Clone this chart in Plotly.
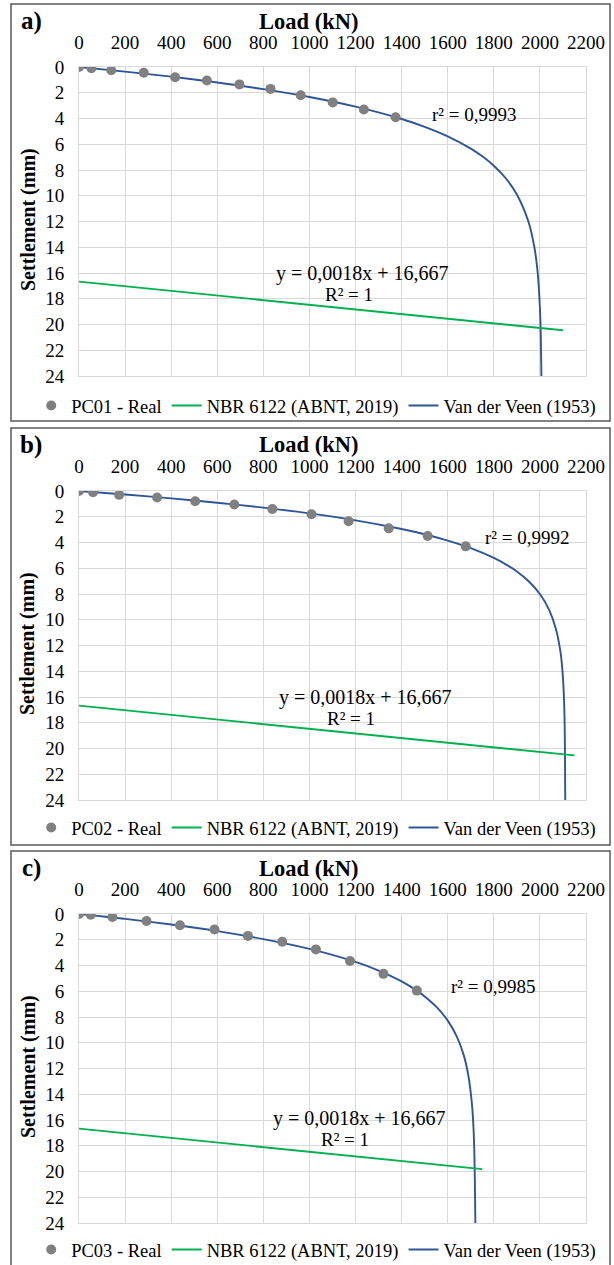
import plotly.graph_objects as go

# ---------------- data ----------------
panel_letters = ["a)", "b)", "c)"]
pile_names = ["PC01 - Real", "PC02 - Real", "PC03 - Real"]

# measured load-settlement points
pc01_load = [0, 54, 140, 281, 417, 555, 696, 831, 962, 1101, 1236, 1374]
pc01_settle = [0, 0.1, 0.25, 0.45, 0.8, 1.05, 1.35, 1.7, 2.2, 2.75, 3.3, 3.9]
pc02_load = [0, 61, 174, 339, 504, 674, 839, 1009, 1170, 1344, 1513, 1678]
pc02_settle = [0, 0.1, 0.3, 0.5, 0.8, 1.05, 1.4, 1.8, 2.35, 2.9, 3.5, 4.3]
pc03_load = [0, 51, 145, 293, 438, 588, 733, 882, 1028, 1176, 1321, 1466]
pc03_settle = [0, 0.05, 0.23, 0.55, 0.88, 1.2, 1.7, 2.15, 2.75, 3.65, 4.65, 5.95]

# Van der Veen (1953) extrapolated curves
vdv1_load = [0, 200, 400, 600, 800, 1000, 1200, 1400, 1500, 1600, 1700, 1750, 1800, 1850,
             1900, 1950, 1975, 1990, 2000, 2004, 2006.5]
vdv1_settle = [0, 0.36, 0.75, 1.2, 1.72, 2.33, 3.08, 4.04, 4.65, 5.39, 6.34, 6.94, 7.67, 8.6,
               9.9, 12.0, 13.9, 15.9, 18.7, 21.0, 24]
vdv2_load = [0, 200, 400, 600, 800, 1000, 1200, 1400, 1500, 1600, 1700, 1800, 1850, 1900,
             1950, 2000, 2040, 2070, 2090, 2100, 2105, 2108, 2109.5, 2110]
vdv2_settle = [0, 0.27, 0.57, 0.91, 1.29, 1.74, 2.28, 2.95, 3.36, 3.85, 4.44, 5.2, 5.68, 6.25,
               6.99, 8.0, 9.23, 10.75, 12.6, 14.5, 16.4, 18.9, 22.6, 24]
vdv3_load = [0, 200, 400, 600, 800, 1000, 1200, 1300, 1400, 1466, 1500, 1550, 1600, 1640,
             1670, 1690, 1705, 1712, 1716, 1718.5, 1720]
vdv3_settle = [0, 0.38, 0.82, 1.33, 1.95, 2.71, 3.72, 4.39, 5.23, 5.95, 6.4, 7.2, 8.28, 9.54,
               11.0, 12.6, 14.75, 16.7, 18.9, 21.9, 24]

# NBR 6122 (ABNT, 2019) lines
nbr1_load = [0, 2100]
nbr1_settle = [16.667, 20.447]
nbr2_load = [0, 2150]
nbr2_settle = [16.667, 20.537]
nbr3_load = [0, 1750]
nbr3_settle = [16.667, 19.817]

r2_texts = ["r² = 0,9993", "r² = 0,9992", "r² = 0,9985"]
r2_pos = [(1715, 3.7), (1944, 3.6), (1800, 5.6)]
eq_text = "y = 0,0018x + 16,667"
eqR2_text = "R² = 1"
eq_pos = [(1230, 16.0), (1245, 16.0), (1215, 15.9)]
eqR2_pos = [(1170, 17.65), (1182, 17.65), (1155, 17.55)]

x_ticks = list(range(0, 2201, 200))
y_ticks = list(range(0, 25, 2))

# ---------------- layout geometry (pixels) ----------------
W, H = 614, 1265
FONT = "Liberation Serif"
BLUE = "#2F5597"
GREEN = "#00B050"
GRAY = "#808080"
GRID = "#d9d9d9"

offsets = [0, 424, 847]
plot_x0, plot_x1 = 79, 586
plot_y0, plot_y1 = 67, 376
legend_y = [406, 828, 1250]


def px(xp):
    return xp / W


def py(yp):
    return 1 - yp / H


points = [(pc01_load, pc01_settle), (pc02_load, pc02_settle), (pc03_load, pc03_settle)]
vdvs = [(vdv1_load, vdv1_settle), (vdv2_load, vdv2_settle), (vdv3_load, vdv3_settle)]
nbrs = [(nbr1_load, nbr1_settle), (nbr2_load, nbr2_settle), (nbr3_load, nbr3_settle)]

fig = go.Figure()
annotations = []
shapes = []
layout_axes = {}

for i in range(3):
    sfx = "" if i == 0 else str(i + 1)
    xa, ya = "x" + sfx, "y" + sfx
    leg = "legend" + sfx
    off = offsets[i]

    fig.add_trace(go.Scatter(x=vdvs[i][0], y=vdvs[i][1], mode="lines", name="Van der Veen (1953)",
                             line=dict(color=BLUE, width=1.9, shape="spline", smoothing=0.8),
                             xaxis=xa, yaxis=ya, legend=leg, legendrank=3))
    fig.add_trace(go.Scatter(x=nbrs[i][0], y=nbrs[i][1], mode="lines", name="NBR 6122 (ABNT, 2019)",
                             line=dict(color=GREEN, width=1.9),
                             xaxis=xa, yaxis=ya, legend=leg, legendrank=2))
    fig.add_trace(go.Scatter(x=points[i][0], y=points[i][1], mode="markers", name=pile_names[i],
                             marker=dict(color=GRAY, size=10),
                             xaxis=xa, yaxis=ya, legend=leg, legendrank=1))

    layout_axes["xaxis" + sfx] = dict(
        domain=[px(plot_x0), px(plot_x1)], range=[0, 2200], side="top",
        tickvals=x_ticks, ticktext=[str(v) for v in x_ticks],
        showgrid=True, gridcolor=GRID, gridwidth=1, zeroline=False,
        showline=True, linecolor=GRID, mirror=True, ticks="", automargin=False,
        ticklabelstandoff=9, tickfont=dict(family=FONT, size=19, color="black"),
        anchor=ya, fixedrange=True)
    layout_axes["yaxis" + sfx] = dict(
        domain=[py(plot_y1 + off), py(plot_y0 + off)], range=[24, 0],
        tickvals=y_ticks, ticktext=[str(v) for v in y_ticks],
        showgrid=True, gridcolor=GRID, gridwidth=1, zeroline=False,
        showline=True, linecolor=GRID, mirror=True, ticks="", automargin=False,
        ticklabelstandoff=10, tickfont=dict(family=FONT, size=19, color="black"),
        anchor=xa, fixedrange=True)

    layout_axes[leg] = dict(
        orientation="h", x=0.515, xanchor="center", y=py(legend_y[i]), yanchor="middle",
        font=dict(family=FONT, size=18.5, color="black"), bgcolor="rgba(0,0,0,0)",
        itemwidth=30, tracegroupgap=0)

    # panel border
    shapes.append(dict(type="rect", xref="paper", yref="paper",
                       x0=px(11), x1=px(610), y0=py(421 + off), y1=py(4 + off),
                       line=dict(color="#595959", width=1.5), fillcolor="rgba(0,0,0,0)", layer="below"))

    # panel letter, axis titles
    annotations.append(dict(text="<b>" + panel_letters[i] + "</b>", xref="paper", yref="paper",
                            x=px(31), y=py(21 + off), xanchor="center", yanchor="middle", showarrow=False,
                            font=dict(family=FONT, size=25, color="black")))
    annotations.append(dict(text="<b>Load (kN)</b>", xref="paper", yref="paper",
                            x=px(308), y=py(21 + off), xanchor="center", yanchor="middle", showarrow=False,
                            font=dict(family=FONT, size=22.5, color="black")))
    annotations.append(dict(text="<b>Settlement (mm)</b>", xref="paper", yref="paper",
                            x=px(28), y=py(220 + off), xanchor="center", yanchor="middle",
                            showarrow=False, textangle=-90,
                            font=dict(family=FONT, size=20, color="black")))
    # data labels
    annotations.append(dict(text=r2_texts[i], xref=xa, yref=ya, x=r2_pos[i][0], y=r2_pos[i][1],
                            xanchor="center", yanchor="middle",
                            showarrow=False, font=dict(family=FONT, size=19, color="black")))
    annotations.append(dict(text=eq_text, xref=xa, yref=ya, x=eq_pos[i][0], y=eq_pos[i][1],
                            xanchor="center", yanchor="middle",
                            showarrow=False, font=dict(family=FONT, size=20, color="black")))
    annotations.append(dict(text=eqR2_text, xref=xa, yref=ya, x=eqR2_pos[i][0], y=eqR2_pos[i][1],
                            xanchor="center", yanchor="middle",
                            showarrow=False, font=dict(family=FONT, size=19, color="black")))

fig.update_layout(
    width=W, height=H, margin=dict(l=0, r=0, t=0, b=0, autoexpand=False),
    paper_bgcolor="white", plot_bgcolor="white",
    font=dict(family=FONT, size=18, color="black"),
    annotations=annotations, shapes=shapes, **layout_axes)

fig.write_html("out.html")
